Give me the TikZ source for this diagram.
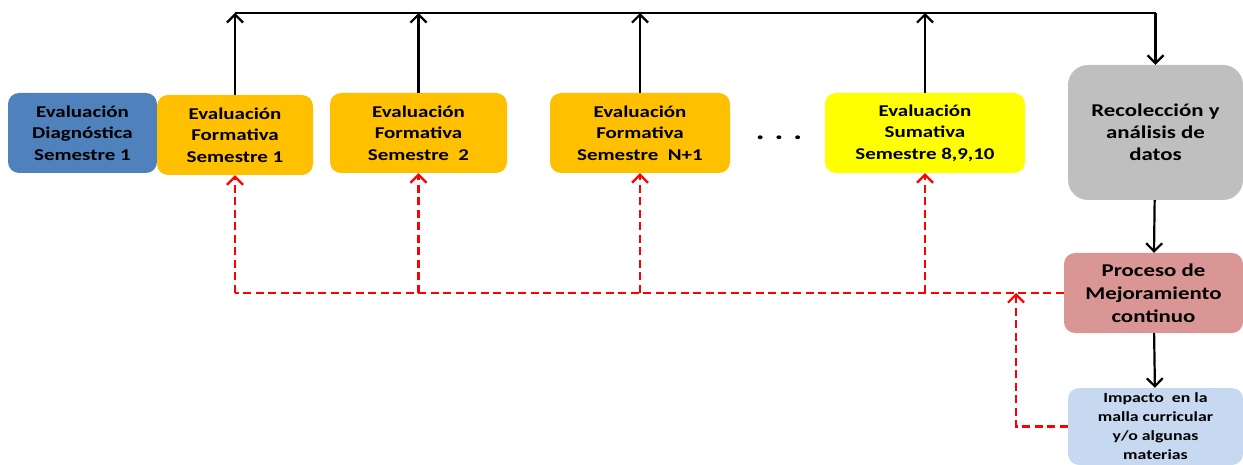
\documentclass[tikz,border=0pt]{standalone}
\usepackage{fontspec}
\setmainfont{Carlito}[FakeStretch=1.27]
\usetikzlibrary{arrows.meta,positioning}

\definecolor{diagblue}{RGB}{79,129,189}
\definecolor{formgold}{RGB}{255,192,0}
\definecolor{sumyellow}{RGB}{255,255,0}
\definecolor{recgray}{RGB}{191,191,191}
\definecolor{procrose}{RGB}{217,150,148}
\definecolor{implight}{RGB}{198,217,241}

\begin{document}
\begin{tikzpicture}[x=1pt, y=-1pt, >={Straight Barb[length=8pt,width=16pt]},
  bx/.style={rounded corners=11pt, align=center, inner sep=2pt,
    font=\fontsize{16.5}{21.5}\selectfont\bfseries, minimum height=80pt},
  e/.style={->, line width=2.2pt},
  fb/.style={->, line width=2.2pt, red, dash pattern=on 8pt off 4.5pt}]
\useasboundingbox (0,0) rectangle (1243,465);
\node[bx, fill=diagblue, minimum width=149pt] (dg) at (82.5,133) {Evaluación\\Diagnóstica\\Semestre 1};
\node[bx, fill=formgold, minimum width=156pt] (f1) at (235,135) {Evaluación\\Formativa\\Semestre 1};
\node[bx, fill=formgold, minimum width=177pt] (f2) at (418.5,133) {Evaluación\\Formativa\\Semestre\ \ 2};
\node[bx, fill=formgold, minimum width=180pt] (fn) at (640,133) {Evaluación\\Formativa\\Semestre\ \ N+1};
\node[font=\fontsize{26}{26}\selectfont\bfseries] (dots) at (779,138) {. . .};
\node[bx, fill=sumyellow, minimum width=200pt] (sm) at (925,133) {Evaluación\\Sumativa\\Semestre 8,9,10};
\node[bx, fill=recgray, rounded corners=20pt, minimum width=175pt, minimum height=135pt,
  font=\fontsize{18}{22}\selectfont\bfseries] (rc) at (1155.5,132.5) {Recolección y\\análisis de\\datos};
\node[bx, fill=procrose, minimum width=179pt,
  font=\fontsize{18}{23}\selectfont\bfseries] (pm) at (1153.5,293) {Proceso de\\Mejoramiento\\continuo};
\node[bx, fill=implight, minimum width=175pt, minimum height=77pt,
  font=\fontsize{14}{19}\selectfont\bfseries] (im) at (1155.5,426.5) {Impacto\ \ en la\\malla curricular\\y/o algunas\\materias};
\coordinate (top) at (0,13);
\coordinate (j) at (1016,293);
% salida de cada evaluacion hacia la recoleccion
\draw[line width=2.2pt] (f1.north |- top) -- (rc.north |- top);
\draw[e] (rc.north |- top) -- (rc.north);
\foreach \n in {f1,f2,fn,sm} \draw[e] (\n.north) -- (\n.north |- top);
\draw[e] (rc) -- (pm);
\draw[e] (pm) -- (im);
% retroalimentacion
\draw[fb, -] (pm.west) -- (f1.south |- pm.west);
\foreach \n in {f1,f2,fn,sm} \draw[fb] (\n.south |- pm.west) -- (\n.south);
\draw[fb] (im.west) -| (j);
\end{tikzpicture}
\end{document}
